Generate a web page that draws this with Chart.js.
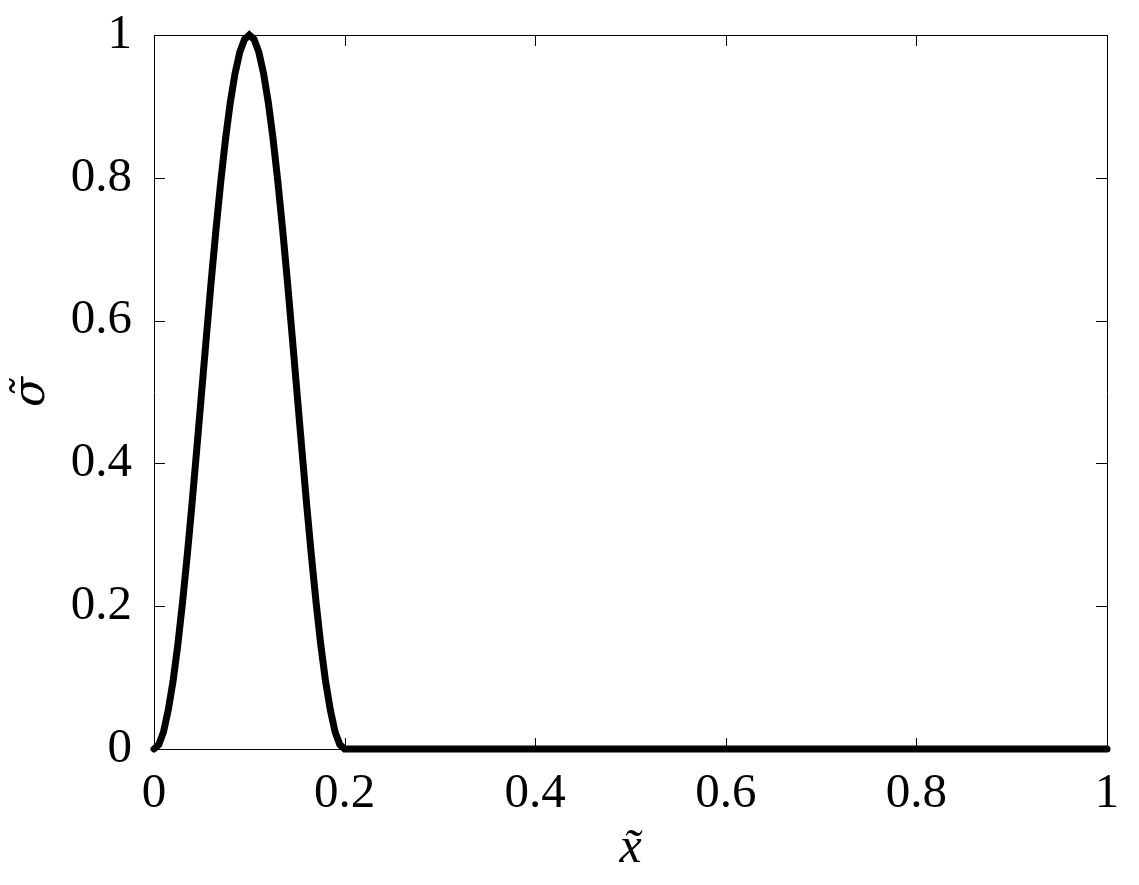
<!DOCTYPE html>
<html>
<head>
<meta charset="utf-8">
<script src="https://cdn.jsdelivr.net/npm/chart.js@4/dist/chart.umd.min.js"></script>
<style>
html,body{margin:0;padding:0;background:#fff;}
#wrap{width:1139px;height:885px;position:relative;}
</style>
</head>
<body>
<div id="wrap"><canvas id="c" width="1139" height="885"></canvas></div>
<script>
// Data
const xValues = [0,0.005,0.01,0.015,0.02,0.025,0.03,0.035,0.04,0.045,0.05,0.055,0.06,0.065,0.07,0.075,0.08,0.085,0.09,0.095,0.1,
  0.105,0.11,0.115,0.12,0.125,0.13,0.135,0.14,0.145,0.15,0.155,0.16,0.165,0.17,0.175,0.18,0.185,0.19,0.195,0.2,0.4,0.6,0.8,1.0];
const sigmaValues = [0,0.006,0.024,0.055,0.095,0.146,0.206,0.273,0.345,0.422,0.5,0.578,0.655,0.727,0.794,0.854,0.905,0.946,0.976,0.994,1,
  0.994,0.976,0.946,0.905,0.854,0.794,0.727,0.655,0.578,0.5,0.422,0.345,0.273,0.206,0.146,0.095,0.055,0.024,0.006,0,0,0,0,0];
const xTicks = [0,0.2,0.4,0.6,0.8,1];
const yTicks = [0,0.2,0.4,0.6,0.8,1];
const xTitle = 'x\u0303';
const yTitle = '\u03C3\u0303';

const points = xValues.map((x,i)=>({x:x,y:sigmaValues[i]}));
const FONT = 'Liberation Serif';

const frameTicks = {
  id:'frameTicks',
  beforeDatasetsDraw(chart){
    const {ctx, chartArea:a, scales:{x,y}} = chart;
    ctx.save();
    ctx.strokeStyle='#000';
    ctx.lineWidth=1;
    ctx.beginPath();
    ctx.rect(Math.round(a.left)+0.5, Math.round(a.top)+0.5, Math.round(a.right-a.left), Math.round(a.bottom-a.top));
    ctx.stroke();
    const L=11;
    ctx.beginPath();
    xTicks.forEach(v=>{
      const px=Math.round(x.getPixelForValue(v))+0.5;
      ctx.moveTo(px,a.bottom); ctx.lineTo(px,a.bottom-L);
      ctx.moveTo(px,a.top); ctx.lineTo(px,a.top+L);
    });
    yTicks.forEach(v=>{
      const py=Math.round(y.getPixelForValue(v))+0.5;
      ctx.moveTo(a.left,py); ctx.lineTo(a.left+L,py);
      ctx.moveTo(a.right,py); ctx.lineTo(a.right-L,py);
    });
    ctx.stroke();
    ctx.restore();
  }
};

new Chart(document.getElementById('c'),{
  type:'line',
  data:{datasets:[{
    data:points,
    borderColor:'#000',
    borderWidth:7,
    pointRadius:0,
    tension:0,
    fill:false,
    clip:false,
    borderCapStyle:'round',
    borderJoinStyle:'miter'
  }]},
  options:{
    responsive:false,
    animation:false,
    devicePixelRatio:1,
    layout:{padding:{top:35,right:32,left:0,bottom:0}},
    plugins:{legend:{display:false},tooltip:{enabled:false}},
    scales:{
      x:{
        type:'linear',min:0,max:1,
        afterBuildTicks(s){ s.ticks = xTicks.map(v=>({value:v})); },
        afterFit(s){ s.height=136; s.paddingLeft=0; s.paddingRight=0; },
        grid:{display:false,drawTicks:false},
        border:{display:false},
        ticks:{color:'#000',padding:16,maxRotation:0,font:{family:FONT,size:49},
          callback:v=>String(v)},
        title:{display:true,text:xTitle,color:'#000',font:{family:FONT,size:50,style:'italic'},padding:{top:0,bottom:6}}
      },
      y:{
        type:'linear',min:0,max:1,
        afterBuildTicks(s){ s.ticks = yTicks.map(v=>({value:v})); },
        afterFit(s){ s.width=154; s.paddingTop=0; s.paddingBottom=0; },
        grid:{display:false,drawTicks:false},
        border:{display:false},
        ticks:{color:'#000',padding:22,font:{family:FONT,size:49},
          callback:v=>String(v)},
        title:{display:true,text:yTitle,color:'#000',font:{family:'DejaVu Serif',size:44,style:'italic'},padding:{top:6,bottom:0}}
      }
    }
  },
  plugins:[frameTicks]
});
</script>
</body>
</html>
